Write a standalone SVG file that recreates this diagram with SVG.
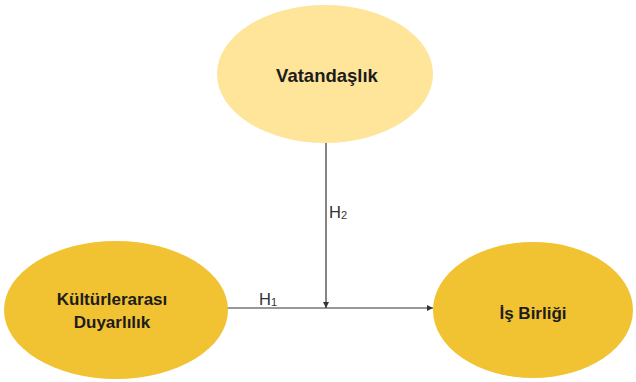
<svg xmlns="http://www.w3.org/2000/svg" width="636" height="382" viewBox="0 0 636 382">
<defs>
<style>
.lbl{font-family:"Liberation Sans",Arial,sans-serif;font-weight:bold;font-size:17px;fill:#1c1c1c;text-anchor:middle}
.h{font-family:"Liberation Sans",Arial,sans-serif;font-size:16.5px;fill:#333}
.hs{font-size:11px}
.ln{stroke:#333;stroke-width:1.2;fill:none}
</style>
<marker id="ah" viewBox="0 0 10 10" refX="10" refY="5" markerWidth="6" markerHeight="6" orient="auto" markerUnits="userSpaceOnUse">
<path d="M0,0 L10,5 L0,10 z" fill="#333"/>
</marker>
</defs>
<rect width="636" height="382" fill="#fff"/>
<g id="connectors">
<line class="ln" x1="222" y1="308" x2="433" y2="308" marker-end="url(#ah)"/>
<line class="ln" x1="326" y1="143" x2="326" y2="308" marker-end="url(#ah)"/>
<text class="h" x="329" y="218">H<tspan class="hs" dy="1">2</tspan></text>
<text class="h" x="259" y="305">H<tspan class="hs" dy="1">1</tspan></text>
</g>
<g id="vatandaslik">
<ellipse cx="325" cy="74" rx="108" ry="69" fill="#FFE599"/>
<text class="lbl" x="327" y="82" style="font-size:18.5px">Vatandaşlık</text>
</g>
<g id="kulturlerarasi">
<ellipse cx="116" cy="310" rx="112" ry="69" fill="#F1C232"/>
<text class="lbl" x="112" y="305">Kültürlerarası</text>
<text class="lbl" x="112" y="328">Duyarlılık</text>
</g>
<g id="isbirligi">
<ellipse cx="533" cy="310" rx="100" ry="68" fill="#F1C232"/>
<text class="lbl" x="533" y="319">İş Birliği</text>
</g>
</svg>
